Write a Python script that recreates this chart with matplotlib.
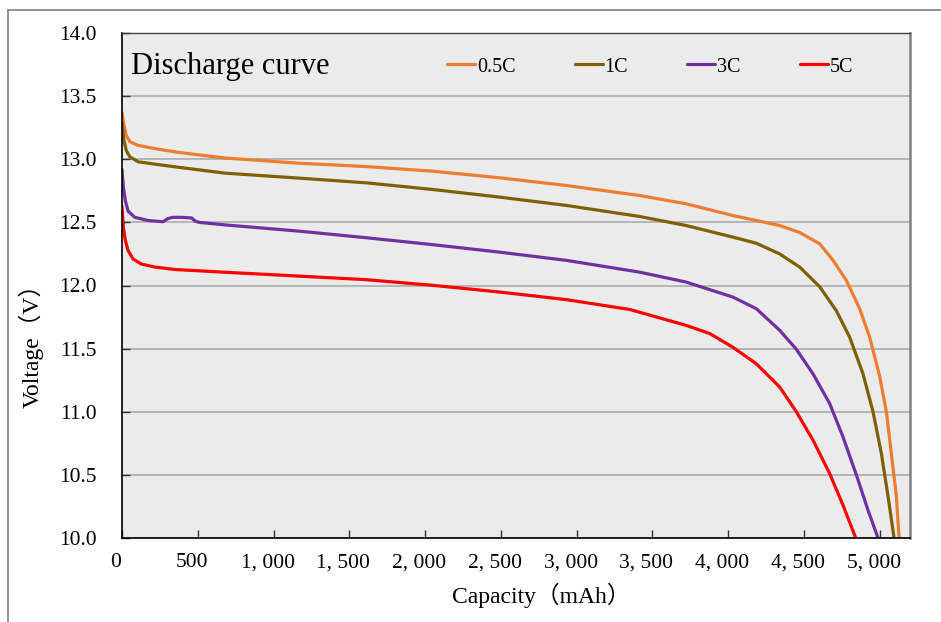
import matplotlib.pyplot as plt
from matplotlib.lines import Line2D
from matplotlib.transforms import ScaledTranslation

plt.rcParams['font.family'] = ['Liberation Serif', 'Noto Sans CJK SC', 'DejaVu Sans']

# discharge data (capacity in mAh, voltage in V)
cap_05c = [0, 13, 28, 51, 106, 237, 369, 679, 1174, 1614, 2054, 2493, 2933, 3415, 3723,
           4032, 4186, 4340, 4472, 4604, 4692, 4780, 4868, 4934, 5000, 5044, 5077, 5110, 5128]
volt_05c = [13.37, 13.27, 13.19, 13.14, 13.11, 13.08, 13.055, 13.01, 12.968, 12.942, 12.905, 12.853, 12.792, 12.713, 12.647,
            12.554, 12.515, 12.475, 12.42, 12.33, 12.2, 12.04, 11.816, 11.59, 11.28, 11.0, 10.67, 10.33, 10.0]

cap_1c = [0, 13, 28, 51, 106, 237, 369, 679, 1174, 1614, 2054, 2493, 2933, 3415, 3723,
          4032, 4186, 4340, 4472, 4604, 4714, 4802, 4890, 4956, 5011, 5055, 5095]
volt_1c = [13.29, 13.15, 13.07, 13.02, 12.98, 12.958, 12.937, 12.89, 12.85, 12.813, 12.76, 12.70, 12.634, 12.547, 12.475,
           12.383, 12.335, 12.25, 12.146, 11.99, 11.80, 11.59, 11.30, 11.0, 10.67, 10.33, 10.0]

cap_3c = [0, 9, 22, 40, 84, 172, 270, 303, 336, 394, 460, 482, 510, 679, 1174, 1614, 2054, 2493,
          2933, 3415, 3723, 4032, 4186, 4340, 4450, 4560, 4670, 4758, 4846, 4923, 4989]
volt_3c = [12.92, 12.78, 12.67, 12.59, 12.54, 12.515, 12.505, 12.53, 12.54, 12.54, 12.535, 12.51, 12.50, 12.48, 12.43,
           12.378, 12.323, 12.264, 12.199, 12.106, 12.027, 11.908, 11.816, 11.645, 11.495, 11.30, 11.065, 10.80,
           10.50, 10.22, 10.0]

cap_5c = [0, 9, 22, 40, 73, 128, 216, 347, 679, 1174, 1614, 2054, 2493, 2933, 3351, 3723,
          3879, 4032, 4186, 4340, 4450, 4560, 4670, 4758, 4842]
volt_5c = [12.626, 12.46, 12.357, 12.278, 12.21, 12.17, 12.146, 12.127, 12.105, 12.074, 12.046, 12.001, 11.948,
           11.888, 11.81, 11.684, 11.619, 11.51, 11.38, 11.196, 11.0, 10.775, 10.51, 10.26, 10.0]

x_ticks = [0, 500, 1000, 1500, 2000, 2500, 3000, 3500, 4000, 4500, 5000]
x_tick_labels = ['0', '500', '1, 000', '1, 500', '2, 000', '2, 500', '3, 000', '3, 500', '4, 000', '4, 500', '5, 000']
y_ticks = [10.0, 10.5, 11.0, 11.5, 12.0, 12.5, 13.0, 13.5, 14.0]

fig = plt.figure(figsize=(9.41, 6.22), dpi=100)
ax = fig.add_axes([122 / 941, 84 / 622, 788 / 941, 505 / 622])
ax.set_facecolor('#ebebeb')

line_kw = dict(lw=2.3, solid_joinstyle='round', solid_capstyle='round')
ax.plot(cap_05c, volt_05c, color='#ed7d31', label='0.5C', **line_kw)
ax.plot(cap_1c, volt_1c, color='#7f6000', label='1C', **line_kw)
ax.plot(cap_3c, volt_3c, color='#7030a0', label='3C', **line_kw)
ax.plot(cap_5c, volt_5c, color='#ff0000', label='5C', **line_kw)

ax.set_xlim(0, 5200)
ax.set_ylim(10, 14)
ax.set_xticks(x_ticks)
ax.set_xticklabels(x_tick_labels)
ax.set_yticks(y_ticks)
ax.set_yticklabels([f'{v:.1f}' for v in y_ticks])
ax.yaxis.grid(True, color='#a6a6a6', lw=1.1)
ax.set_axisbelow(True)

ax.tick_params(axis='both', direction='in', length=6, width=1, color='#333333', labelsize=15.5)
ax.tick_params(axis='y', pad=18)
ax.tick_params(axis='x', pad=11)
shift = ScaledTranslation(-6 / 100, 0, fig.dpi_scale_trans)
for lab in ax.get_xticklabels():
    lab.set_transform(lab.get_transform() + shift)

ax.spines['left'].set_color('black')
ax.spines['bottom'].set_color('black')
ax.spines['left'].set_linewidth(1.2)
ax.spines['bottom'].set_linewidth(1.2)
ax.spines['top'].set_color('#404040')
ax.spines['top'].set_linewidth(1)
ax.spines['right'].set_color('#808080')
ax.spines['right'].set_linewidth(1.8)

ax.text(0.0115, 0.9327, 'Discharge curve', transform=ax.transAxes, fontsize=22,
        ha='left', va='center')

ax.legend(loc='center left', bbox_to_anchor=((447 - 122) / 788, (538 - 67) / 505),
          ncol=4, frameon=False, fontsize=14.5, handlelength=1.39, handletextpad=0.1,
          columnspacing=2.93, borderpad=0, borderaxespad=0)

fig.text(541 / 941, (622 - 603) / 622, 'Capacity（mAh）', fontsize=17, ha='center', va='baseline')
fig.text(31.5 / 941, (622 - 340) / 622, 'Voltage（V）', fontsize=17, rotation=90,
         ha='center', va='center')

# outer chart frame, cut off at right and bottom in the reference
fig.add_artist(Line2D([8 / 941, 1], [1 - 10 / 622, 1 - 10 / 622], color='#808080', lw=1.2))
fig.add_artist(Line2D([8 / 941, 8 / 941], [0, 1 - 10 / 622], color='#808080', lw=1.2))

fig.savefig('out.png', dpi=100)
